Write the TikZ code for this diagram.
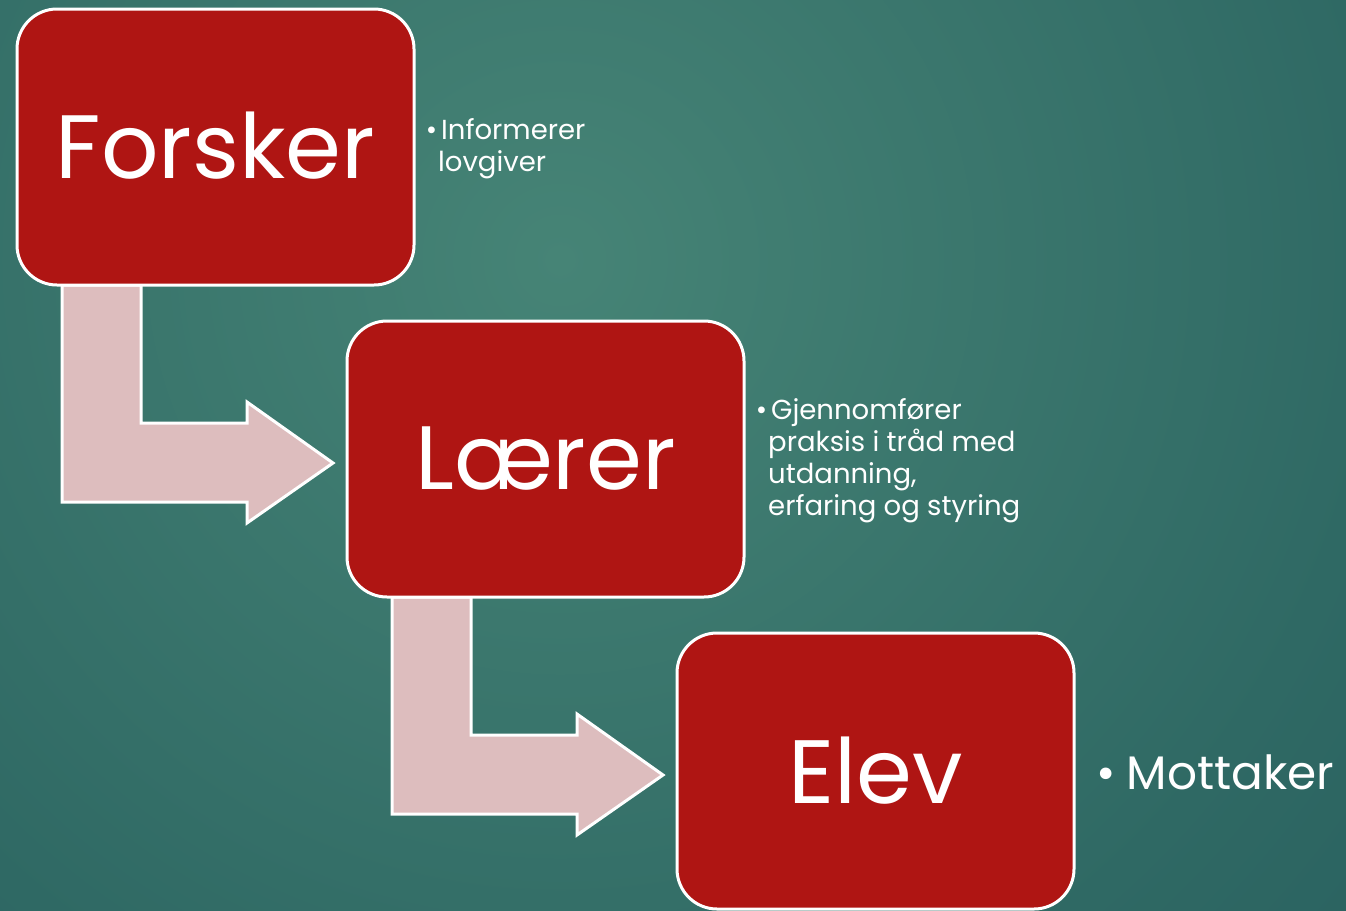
\documentclass[tikz,border=0pt]{standalone}
\usepackage{fontspec}
\setmainfont{Poppins}
\begin{document}
\definecolor{bgA}{RGB}{70,132,118}
\definecolor{bgB}{RGB}{47,105,100}
\definecolor{bgC}{RGB}{32,83,88}
\definecolor{boxred}{RGB}{175,21,19}
\definecolor{arrowpink}{RGB}{221,189,190}
\pgfdeclareradialshading{bgshade}{\pgfpoint{0bp}{0bp}}{color(0bp)=(bgA); color(18bp)=(bgB); color(36bp)=(bgC); color(50bp)=(bgC)}
\begin{tikzpicture}[x=1pt,y=-1pt,
  rolebox/.style={draw=white, line width=3pt, fill=boxred, rounded corners=40pt,
    minimum width=397pt, minimum height=276pt, inner sep=0pt, text=white,
    font=\fontsize{90}{90}\selectfont},
  bentarrow/.style={draw=white, line width=3pt, fill=arrowpink, line join=miter},
  sidetext/.style={text=white, align=left, inner sep=0pt, anchor=north west,
    font=\fontsize{27.5}{32}\selectfont}]
\useasboundingbox (0,0) rectangle (1346,910);
\begin{scope}
\clip (0,0) rectangle (1346,910);
\shade[shading=bgshade] (560,260) circle (1150);
\end{scope}
% bent arrows
\draw[bentarrow] (62,285) -- (141,285) -- (141,423) -- (247,423) -- (247,402) -- (333,463)
  -- (247,523) -- (247,502) -- (62,502) -- cycle;
\draw[bentarrow] (392,597) -- (471,597) -- (471,735) -- (577,735) -- (577,714) -- (663,775)
  -- (577,835) -- (577,814) -- (392,814) -- cycle;
% boxes
\node[rolebox] (forsker) at (215.5,147) {\raisebox{3pt}{Forsker}};
\node[rolebox] (laerer) at (545.5,459) {Lærer};
\node[rolebox] (elev) at (875.5,771) {Elev};
% side texts
\node[sidetext] (t1) at (438,118) {\llap{•\hspace{1pt}}\hspace{3pt}Informerer\\lovgiver};
\node[sidetext] (t2) at (768,398) {\llap{•\hspace{1pt}}\hspace{3pt}Gjennomfører\\praksis i tråd med\\utdanning,\\erfaring og styring};
\node[text=white, anchor=west, inner sep=0pt, font=\fontsize{47}{52}\selectfont] (t3) at (1096,772) {•\hspace{11pt}Mottaker};
\end{tikzpicture}
\end{document}
